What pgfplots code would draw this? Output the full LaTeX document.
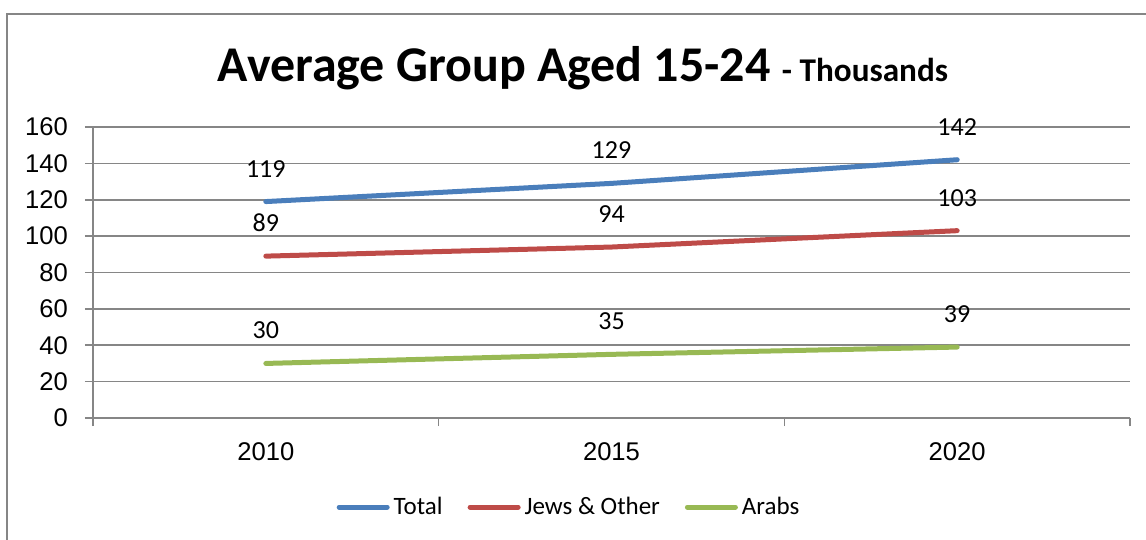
\documentclass[border=0pt]{standalone}
\usepackage{pgfplots}
\pgfplotsset{compat=1.18}
\usepackage{fontspec}
\setmainfont{Carlito}
\newfontfamily\arial{Liberation Sans}
\definecolor{cTotal}{HTML}{4A7EBB}
\definecolor{cJews}{HTML}{BE4B48}
\definecolor{cArabs}{HTML}{98B954}
\definecolor{gridgray}{HTML}{868686}
\begin{document}
\begin{tikzpicture}
\useasboundingbox (0,0) rectangle (573pt,-270pt);
\draw[gridgray,line width=0.8pt] (3.5pt,-275pt) -- (3.5pt,-7pt) -- (580pt,-7pt);
\node[anchor=base,font=\bfseries,inner sep=0pt] at (291.5pt,-41pt)
  {\fontsize{25}{29}\selectfont Average Group Aged 15-24 {\fontsize{16.6}{19}\selectfont - Thousands}};
\begin{axis}[at={(46.5pt,-209pt)},anchor=south west,scale only axis,
width=518.5pt,height=145.5pt,
xmin=-0.5,xmax=2.5,ymin=0,ymax=160,ytick={0,20,...,160},
xtick={-0.5,0.5,1.5,2.5},xticklabels={},
extra x ticks={0,1,2},extra x tick labels={2010,2015,2020},
extra x tick style={major tick length=0pt,grid=none},
axis x line*=bottom,axis y line*=left,
axis line style={gridgray,line width=0.8pt,-},
ymajorgrids,grid style={gridgray,line width=0.8pt},
tick align=outside,major tick length=4pt,
tick style={gridgray,line width=0.8pt},
ticklabel style={font=\arial\fontsize{12.8}{14}\selectfont,black},
yticklabel style={xshift=-5pt},
xticklabel style={yshift=-9pt},
/pgf/number format/assume math mode=true,
nodes near coords,
every node near coord/.append style={font=\fontsize{13}{15}\selectfont,text=black,anchor=center,yshift=16.5pt},
legend style={at={(0.46,-0.306)},anchor=center,draw=none,legend columns=3,
  font=\fontsize{12.5}{14}\selectfont,
  /tikz/every even column/.append style={column sep=10.5pt}},
legend image code/.code={\draw[line width=2.5pt,line cap=round] (0pt,0pt) -- (24pt,0pt);},
every axis plot/.append style={line width=2.5pt,line cap=round,mark=none},
]
\addplot[cTotal] coordinates {(0,119) (1,129) (2,142)};
\addplot[cJews] coordinates {(0,89) (1,94) (2,103)};
\addplot[cArabs] coordinates {(0,30) (1,35) (2,39)};
\legend{Total,Jews \& Other,Arabs}
\end{axis}
\end{tikzpicture}
\end{document}
